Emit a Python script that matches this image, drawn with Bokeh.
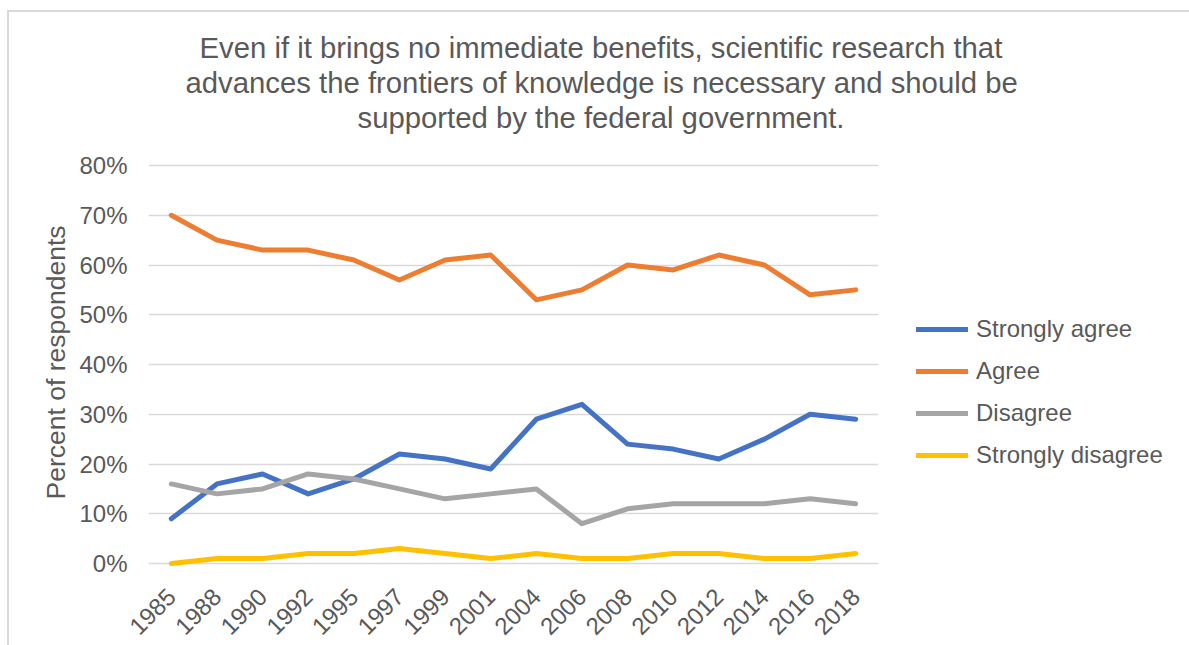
from bokeh.plotting import figure
from bokeh.models import (FactorRange, Range1d, FixedTicker, PrintfTickFormatter,
                          Legend, LegendItem, Title)
from bokeh.embed import file_html
from bokeh.resources import INLINE
from math import pi

# Survey years
years = ["1985", "1988", "1990", "1992", "1995", "1997", "1999", "2001",
         "2004", "2006", "2008", "2010", "2012", "2014", "2016", "2018"]

# Percent of respondents per answer
strongly_agree = [9, 16, 18, 14, 17, 22, 21, 19, 29, 32, 24, 23, 21, 25, 30, 29]
agree = [70, 65, 63, 63, 61, 57, 61, 62, 53, 55, 60, 59, 62, 60, 54, 55]
disagree = [16, 14, 15, 18, 17, 15, 13, 14, 15, 8, 11, 12, 12, 12, 13, 12]
strongly_disagree = [0, 1, 1, 2, 2, 3, 2, 1, 2, 1, 1, 2, 2, 1, 1, 2]

series_names = ["Strongly agree", "Agree", "Disagree", "Strongly disagree"]
series_colors = ["#4472C4", "#ED7D31", "#A5A5A5", "#FFC000"]

y_ticks = [0, 10, 20, 30, 40, 50, 60, 70, 80]

title_lines = [
    "Even if it brings no immediate benefits, scientific research that",
    "advances the frontiers of knowledge is necessary and should be",
    "supported by the federal government.",
]
y_label = "Percent of respondents"

FONT = "Liberation Sans"
TEXT = "#595959"
GRID = "#D9D9D9"

# page placement of the chart box (left/top border) and canvas origin inside it
BOX_X, BOX_Y, BORDER = 7, 10, 2
OX, OY = BOX_X + BORDER, BOX_Y + BORDER

# plot-area edges on the page: 0% at y=563, 80% at y=165
PX_PER_PCT = (563 - 165) / 80.0
FRAME_L, FRAME_R = 148, 878
FRAME_T = 133                      # plot area reaches up to the title block
Y0 = -1
Y1 = 80 + (165 - FRAME_T) / PX_PER_PCT
FRAME_B = 563 + (0 - Y0) * PX_PER_PCT

p = figure(frame_width=FRAME_R - FRAME_L, frame_height=round(FRAME_B - FRAME_T),
           x_range=FactorRange(*years), y_range=Range1d(Y0, Y1),
           output_backend="svg", toolbar_location=None,
           min_border_left=round(FRAME_L - OX), min_border_right=0,
           min_border_top=round(FRAME_T - OY), min_border_bottom=round(645 - FRAME_B),
           margin=(BOX_Y, 0, 0, BOX_X))
p.styles = {"border-left": f"{BORDER}px solid {GRID}",
            "border-top": f"{BORDER}px solid {GRID}"}
p.outline_line_color = None
p.background_fill_color = "white"
p.border_fill_color = "white"

# gridlines
p.xgrid.grid_line_color = None
p.ygrid.grid_line_color = GRID
p.ygrid.grid_line_width = 1.5
p.yaxis.ticker = FixedTicker(ticks=y_ticks)
p.yaxis.formatter = PrintfTickFormatter(format="%d%%")

for ax in (p.xaxis[0], p.yaxis[0]):
    ax.axis_line_color = None
    ax.major_tick_line_color = None
    ax.minor_tick_line_color = None
    ax.major_label_text_font = FONT
    ax.major_label_text_font_size = "24px"
    ax.major_label_text_color = TEXT

p.yaxis.major_label_standoff = 15

p.xaxis.major_label_orientation = pi / 4
p.xaxis.major_label_standoff = 18

renderers = []
for vals, color in zip([strongly_agree, agree, disagree, strongly_disagree], series_colors):
    r = p.line(x=years, y=vals, line_color=color, line_width=5,
               line_cap="round", line_join="round")
    renderers.append(r)

legend = Legend(
    items=[LegendItem(label=n, renderers=[r]) for n, r in zip(series_names, renderers)],
    location=(916 - FRAME_R, FRAME_B - 469), orientation="vertical",
    padding=0, margin=0, border_line_color=None, background_fill_alpha=0,
    label_text_font=FONT, label_text_font_size="24px", label_text_color=TEXT,
    glyph_width=52, glyph_height=28, label_height=28, label_standoff=8, spacing=14,
)
p.add_layout(legend, "right")

# y-axis title, centred on the 0-80% span rather than on the whole plot area
p.add_layout(Title(text=y_label, align="left", offset=round(FRAME_B - 499),
                   text_font=FONT, text_font_size="26.5px", text_font_style="normal",
                   text_color=TEXT, standoff=12), "left")

# three-line title; the line nearest the plot is added first
title_left = [199, 185, 357]
for i in (2, 1, 0):
    t = Title(text=title_lines[i], align="left", offset=title_left[i] - FRAME_L,
              text_font=FONT, text_font_size="29.3px", text_font_style="normal",
              text_color=TEXT, standoff=0)
    p.add_layout(t, "above")

open("out.html", "w").write(file_html(p, INLINE))
